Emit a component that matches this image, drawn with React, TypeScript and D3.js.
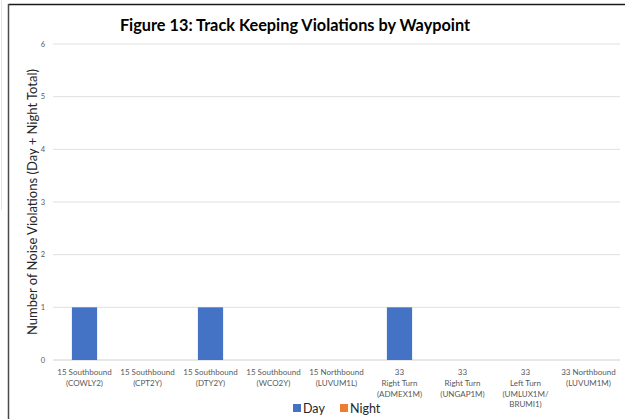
import React from "react";
import * as d3 from "d3";

const categories: string[][] = [
  ["15 Southbound", "(COWLY2)"],
  ["15 Southbound", "(CPT2Y)"],
  ["15 Southbound", "(DTY2Y)"],
  ["15 Southbound", "(WCO2Y)"],
  ["15 Northbound", "(LUVUM1L)"],
  ["33", "Right Turn", "(ADMEX1M)"],
  ["33", "Right Turn", "(UNGAP1M)"],
  ["33", "Left Turn", "(UMLUX1M/", "BRUMI1)"],
  ["33 Northbound", "(LUVUM1M)"],
];
const dayValues = [1, 0, 1, 0, 0, 1, 0, 0, 0];
const nightValues = [0, 0, 0, 0, 0, 0, 0, 0, 0];
const yTicks = [0, 1, 2, 3, 4, 5, 6];
const seriesNames = ["Day", "Night"];
const seriesColors = ["#4472C4", "#ED7D31"];

const W = 625;
const H = 419;
const FONT = "Lato, 'Open Sans', sans-serif";

export default function App() {
  const plotLeft = 53;
  const plotRight = 620;
  const plotTop = 44;
  const plotBottom = 360;

  const x = d3
    .scaleBand<number>()
    .domain(categories.map((_, i) => i))
    .range([plotLeft, plotRight])
    .paddingInner(0.6)
    .paddingOuter(0.3);
  const y = d3.scaleLinear().domain([0, 6]).range([plotBottom, plotTop]);

  const stacked = d3.stack<number>().keys(["0", "1"]).value((i, k) =>
    k === "0" ? dayValues[i] : nightValues[i]
  )(categories.map((_, i) => i));

  return (
    <div style={{ position: "fixed", left: 0, top: 0 }}>
      <svg width={W} height={H} style={{ display: "block", background: "#fff" }}>
        <rect x={0} y={0} width={W} height={H} fill="#fff" />
        <line x1={1.5} y1={0} x2={1.5} y2={210} stroke="#e4e4e4" strokeWidth={1} />
        <line x1={8.5} y1={4.5} x2={W} y2={4.5} stroke="#1a1a1a" strokeWidth={1.5} />
        <line x1={8.5} y1={4} x2={8.5} y2={H} stroke="#4a4a4a" strokeWidth={1.5} />

        <text
          x={295}
          y={31}
          textAnchor="middle"
          fontFamily={FONT}
          fontWeight={700}
          fontSize={16.3}
          fill="#000"
        >
          Figure 13: Track Keeping Violations by Waypoint
        </text>

        {yTicks.map((t) => (
          <g key={t}>
            <line
              x1={plotLeft}
              x2={plotRight}
              y1={y(t)}
              y2={y(t)}
              stroke={t === 0 ? "#d0d0d0" : "#e0e0e0"}
              strokeWidth={1}
            />
            <text
              x={45}
              y={y(t) + 2.5}
              textAnchor="end"
              fontFamily={FONT}
              fontSize={7.5}
              fill="#595959"
            >
              {t}
            </text>
          </g>
        ))}

        <text
          transform={`translate(37, ${(plotTop + plotBottom) / 2}) rotate(-90)`}
          textAnchor="middle"
          fontFamily={FONT}
          fontSize={13}
          fill="#262626"
        >
          Number of Noise Violations (Day + Night Total)
        </text>

        {stacked.map((layer, si) =>
          layer.map((d, i) => {
            const h = y(d[0]) - y(d[1]);
            if (h <= 0) return null;
            return (
              <rect
                key={`${si}-${i}`}
                x={x(i)!}
                y={y(d[1])}
                width={x.bandwidth()}
                height={h}
                fill={seriesColors[si]}
              />
            );
          })
        )}

        {categories.map((lines, i) => (
          <text
            key={i}
            x={x(i)! + x.bandwidth() / 2}
            textAnchor="middle"
            fontFamily={FONT}
            fontSize={8}
            fill="#595959"
          >
            {lines.map((l, j) => (
              <tspan key={j} x={x(i)! + x.bandwidth() / 2} y={375 + j * 10.8}>
                {l}
              </tspan>
            ))}
          </text>
        ))}

        {seriesNames.map((n, i) => {
          const lx = i === 0 ? 293 : 340;
          return (
            <g key={n}>
              <rect x={lx} y={404} width={8} height={8} fill={seriesColors[i]} />
              <text x={lx + 10} y={412.5} fontFamily={FONT} fontSize={12.5} fill="#262626">
                {n}
              </text>
            </g>
          );
        })}
      </svg>
    </div>
  );
}
